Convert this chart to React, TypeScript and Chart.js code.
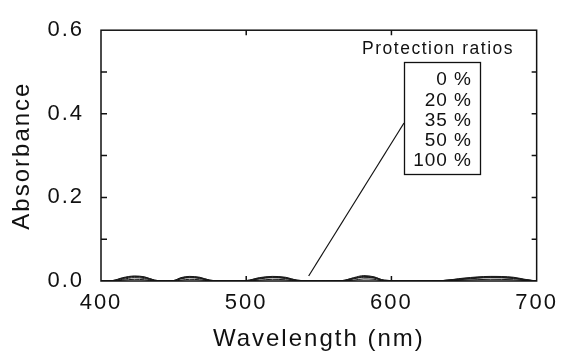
import React, { useEffect, useRef } from "react";
import { Chart, registerables } from "chart.js";

Chart.register(...registerables);

// ---- data ----
const wavelengths = [400, 408, 415, 423, 430, 437, 444, 450, 455, 461, 468, 475, 487, 500, 509, 518, 527, 535, 550, 566, 574, 581, 588, 595, 615, 635, 650, 668, 684, 692, 700];
const seriesLabels = ["0 %", "20 %", "35 %", "50 %", "100 %"];
const abs0 = [0.000, 0.001, 0.008, 0.012, 0.010, 0.002, 0.000, 0.001, 0.008, 0.011, 0.009, 0.002, 0.000, 0.001, 0.008, 0.011, 0.009, 0.002, 0.000, 0.001, 0.008, 0.013, 0.010, 0.002, 0.000, 0.001, 0.007, 0.011, 0.009, 0.004, 0.000];
const abs20 = [0.000, 0.001, 0.007, 0.011, 0.009, 0.002, 0.000, 0.001, 0.007, 0.010, 0.008, 0.002, 0.000, 0.001, 0.007, 0.010, 0.008, 0.002, 0.000, 0.001, 0.007, 0.011, 0.009, 0.002, 0.000, 0.001, 0.006, 0.010, 0.008, 0.003, 0.000];
const abs35 = [0.000, 0.000, 0.006, 0.010, 0.008, 0.001, 0.000, 0.000, 0.006, 0.009, 0.007, 0.001, 0.000, 0.000, 0.006, 0.009, 0.007, 0.001, 0.000, 0.000, 0.006, 0.010, 0.008, 0.001, 0.000, 0.001, 0.005, 0.009, 0.007, 0.003, 0.000];
const abs50 = [0.000, 0.000, 0.004, 0.008, 0.006, 0.001, 0.000, 0.000, 0.005, 0.008, 0.006, 0.001, 0.000, 0.000, 0.005, 0.008, 0.006, 0.001, 0.000, 0.000, 0.005, 0.009, 0.007, 0.001, 0.000, 0.000, 0.004, 0.008, 0.006, 0.002, 0.000];
const abs100 = [0.000, 0.000, 0.002, 0.004, 0.003, 0.000, 0.000, 0.000, 0.002, 0.004, 0.003, 0.000, 0.000, 0.000, 0.002, 0.004, 0.003, 0.000, 0.000, 0.000, 0.002, 0.005, 0.004, 0.000, 0.000, 0.000, 0.002, 0.004, 0.003, 0.001, 0.000];
const seriesValues = [abs0, abs20, abs35, abs50, abs100];

const xMin = 400;
const xMax = 700;
const xStep = 100;
const yMin = 0;
const yMax = 0.6;
const yStep = 0.2;
const xMinorTicks = [500, 600];
const yMinorTicks = [0.1, 0.2, 0.3, 0.4, 0.5];
const xTitle = "Wavelength (nm)";
const yTitle = "Absorbance";
const legendTitle = "Protection ratios";
const annotationTarget = { x: 543, y: 0.012 };

const FONT = "'Liberation Sans', Arial, Helvetica, sans-serif";

const framePlugin = {
  id: "frameAndLegend",
  beforeDraw(chart: any) {
    const ctx = chart.ctx;
    ctx.save();
    ctx.fillStyle = "#ffffff";
    ctx.fillRect(0, 0, chart.width, chart.height);
    ctx.restore();
    ctx.letterSpacing = "2px";
  },
  afterDraw(chart: any) {
    const { ctx, chartArea: a, scales } = chart;
    const xs = scales.x;
    const ys = scales.y;
    ctx.save();
    ctx.letterSpacing = "0px";
    ctx.strokeStyle = "#111";
    ctx.lineWidth = 1.5;
    ctx.strokeRect(a.left, a.top, a.right - a.left, a.bottom - a.top);
    ctx.beginPath();
    for (const v of yMinorTicks) {
      const py = ys.getPixelForValue(v);
      ctx.moveTo(a.left, py);
      ctx.lineTo(a.left + 6, py);
      ctx.moveTo(a.right, py);
      ctx.lineTo(a.right - 5, py);
    }
    for (const v of xMinorTicks) {
      const px = xs.getPixelForValue(v);
      ctx.moveTo(px, a.top);
      ctx.lineTo(px, a.top + 5);
      ctx.moveTo(px, a.bottom);
      ctx.lineTo(px, a.bottom - 5);
    }
    ctx.stroke();

    // legend box
    const boxL = 404, boxT = 62, boxW = 76, boxH = 112;
    ctx.lineWidth = 1.3;
    ctx.strokeRect(boxL + 0.5, boxT + 0.5, boxW, boxH);

    // annotation line
    ctx.lineWidth = 1.2;
    ctx.beginPath();
    ctx.moveTo(boxL, 123);
    ctx.lineTo(xs.getPixelForValue(annotationTarget.x), ys.getPixelForValue(annotationTarget.y));
    ctx.stroke();

    ctx.fillStyle = "#111";
    ctx.textBaseline = "middle";
    ctx.textAlign = "right";
    ctx.letterSpacing = "1.5px";
    ctx.font = `17.5px ${FONT}`;
    ctx.fillText(legendTitle, 514, 49);

    ctx.letterSpacing = "1px";
    ctx.font = `19px ${FONT}`;
    seriesLabels.forEach((lab, i) => {
      ctx.fillText(lab, 472, 80 + i * 20.3);
    });
    ctx.restore();
  },
};

export default function App() {
  const ref = useRef<HTMLCanvasElement | null>(null);

  useEffect(() => {
    if (!ref.current) return;
    const datasets = seriesValues.map((vals, si) => ({
      label: seriesLabels[si],
      data: wavelengths.map((w, i) => ({ x: w, y: vals[i] })),
      borderColor: "#1a1a1a",
      borderWidth: 1,
      pointRadius: 0,
      fill: false,
      cubicInterpolationMode: "monotone" as const,
    }));
    const chart = new Chart(ref.current, {
      type: "line",
      data: { datasets },
      plugins: [framePlugin],
      options: {
        animation: false,
        responsive: false,
        devicePixelRatio: 1,
        layout: { padding: { top: 21, right: 27, left: 0, bottom: 0 } },
        plugins: { legend: { display: false }, tooltip: { enabled: false } },
        scales: {
          x: {
            type: "linear",
            min: xMin,
            max: xMax,
            grid: { display: false, drawTicks: false },
            border: { display: false },
            ticks: {
              stepSize: xStep,
              color: "#111",
              padding: 9,
              maxRotation: 0,
              font: { family: FONT, size: 22 },
            },
            title: {
              display: true,
              text: xTitle,
              color: "#111",
              padding: { top: 0, bottom: 0 },
              font: { family: FONT, size: 24 },
            },
            afterFit: (s: any) => {
              s.height = 73;
            },
          },
          y: {
            type: "linear",
            min: yMin,
            max: yMax,
            grid: { display: false, drawTicks: false },
            border: { display: false },
            ticks: {
              stepSize: yStep,
              color: "#111",
              padding: 17,
              font: { family: FONT, size: 22 },
              callback: (v: any) => Number(v).toFixed(1),
            },
            title: {
              display: true,
              text: yTitle,
              color: "#111",
              padding: { top: 8, bottom: 0 },
              font: { family: FONT, size: 24 },
            },
            afterFit: (s: any) => {
              s.width = 101;
            },
          },
        },
      },
    });
    return () => chart.destroy();
  }, []);

  return (
    <div style={{ position: "absolute", left: 0, top: 0, width: 564, height: 354, background: "#fff" }}>
      <canvas ref={ref} width={564} height={354} style={{ display: "block" }} />
    </div>
  );
}
